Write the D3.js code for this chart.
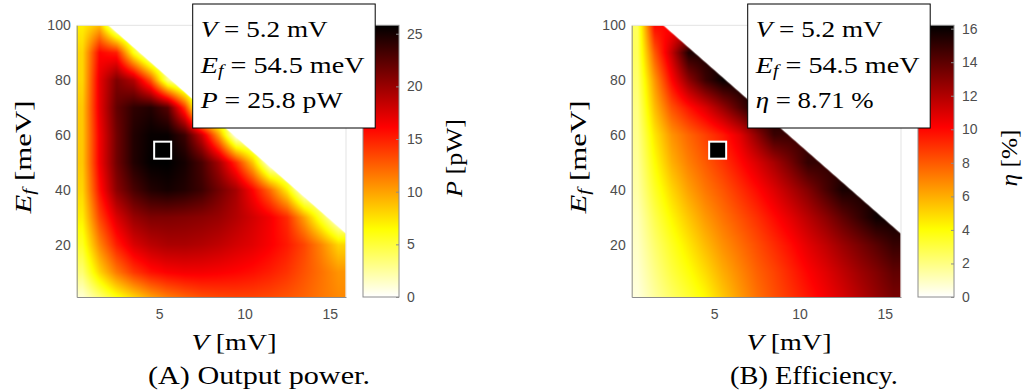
<!DOCTYPE html>
<html>
<head>
<meta charset="utf-8">
<script src="https://cdn.jsdelivr.net/npm/d3@7"></script>
<style>
  body { margin: 0; background: #fff; }
  svg { display: block; }
  text { white-space: pre; }
</style>
</head>
<body>
<script>
const _ = null; // outside the allowed (V, Ef) region

// grid: columns are V [mV], rows are Ef [meV]
const vGrid = [0.5, 1.5, 2.5, 3.5, 4.5, 5.5, 6.5, 7.5, 8.5, 9.5, 10.5, 11.5, 12.5, 13.5, 14.5, 15.5];
const efGrid = [100, 90, 80, 70, 60, 50, 40, 30, 20, 10, 0];

// output power P [pW]
const powerGrid = [
  [7, 9, _, _, _, _, _, _, _, _, _, _, _, _, _, _],
  [8, 16, 15, 6, _, _, _, _, _, _, _, _, _, _, _, _],
  [8, 17, 21, 19, 13, 3, _, _, _, _, _, _, _, _, _, _],
  [8.5, 17, 22, 24, 24.5, 22.5, 14, 1, _, _, _, _, _, _, _, _],
  [8.5, 16.5, 21.5, 24.5, 25.5, 25.5, 23.5, 18, 10, _, _, _, _, _, _, _],
  [8.5, 16.5, 21.5, 24.5, 25.7, 25.8, 25, 23, 19.5, 14.5, 8.5, _, _, _, _, _],
  [8, 15.5, 20.5, 23, 24.5, 25, 24.5, 23.5, 21.5, 19.5, 16, 12, 7, _, _, _],
  [7, 13.5, 17.5, 20, 21, 21, 20.8, 20.5, 20, 19, 17.8, 16.5, 14.5, 10, 5, _],
  [5.5, 11, 15, 17.5, 18.7, 19.3, 19.3, 19, 18.5, 17.8, 17.2, 16.3, 15.2, 13.5, 11, 8],
  [3.5, 8, 11.5, 14, 15.5, 16.2, 16.5, 16.5, 16.3, 16, 15.6, 15, 14.2, 13, 11.8, 10.5],
  [0.8, 3, 5.5, 7.5, 9.5, 11, 12, 12.8, 13.2, 13.4, 13.4, 13.2, 12.8, 12.3, 11.6, 11]
];

// efficiency eta [%]
const effGrid = [
  [2.6, 10, _, _, _, _, _, _, _, _, _, _, _, _, _, _],
  [2.6, 8, 11.5, 15.5, _, _, _, _, _, _, _, _, _, _, _, _],
  [2.3, 6.5, 10, 12.8, 14.8, 16, _, _, _, _, _, _, _, _, _, _],
  [2.0, 5.6, 8.2, 9.7, 11.0, 12.6, 14.3, 16, _, _, _, _, _, _, _, _],
  [1.8, 4.6, 6.6, 7.7, 8.6, 9.5, 10.8, 12.8, 14.8, _, _, _, _, _, _, _],
  [1.6, 4.0, 5.9, 7.1, 8.0, 8.9, 9.9, 11.0, 12.2, 13.5, 15.0, _, _, _, _, _],
  [1.4, 3.4, 5.0, 6.3, 7.3, 8.1, 9.0, 9.9, 10.9, 12.0, 13.1, 14.4, 15.6, _, _, _],
  [1.1, 2.8, 4.2, 5.4, 6.5, 7.4, 8.2, 9.0, 9.9, 10.8, 11.8, 12.8, 13.9, 14.9, 15.9, _],
  [0.9, 2.3, 3.5, 4.6, 5.7, 6.7, 7.5, 8.3, 9.1, 9.9, 10.8, 11.6, 12.5, 13.3, 14.1, 14.9],
  [0.7, 1.9, 3.0, 3.9, 4.9, 6.0, 6.9, 7.8, 8.5, 9.3, 10.1, 10.8, 11.6, 12.4, 13.1, 13.9],
  [0.5, 1.5, 2.4, 3.2, 4.1, 5.3, 6.4, 7.4, 8.2, 8.9, 9.6, 10.3, 11.0, 11.8, 12.6, 13.3]
];

// edge of the allowed region (straight line)
const edgeV = [2.0, 15.95];
const edgeEf = [100, 24];

const vDomain = [0.16, 15.95];
const efDomain = [1, 100];
const xTicks = [5, 10, 15];
const yTicks = [20, 40, 60, 80, 100];
const powerMax = 25.8;
const effMax = 16.2;
const powerTicks = [0, 5, 10, 15, 20, 25];
const effTicks = [0, 2, 4, 6, 8, 10, 12, 14, 16];

const markerV = 5.2;
const markerEf = 54.5;

const sans = "'Liberation Sans', Arial, Helvetica, sans-serif";
const serif = "'Liberation Serif', 'Times New Roman', serif";
const tickColor = "#4d4d4d";

const svg = d3.select("body").append("svg").attr("width", 1024).attr("height", 391);

// flipped MATLAB "hot": white -> yellow -> red -> black
const hot = max => d3.scaleLinear()
  .domain([0, 0.25, 0.625, 1].map(t => t * max))
  .range(["#ffffff", "#ffff00", "#ff0000", "#000000"])
  .clamp(true);

// latex-ish label: parts are [text, flags], "i" italic, "s" subscript.
// Stretched along its baseline to the measured width (the original font is wider).
function mathText(g, parts, o) {
  const size = o.size;
  const t = g.append("text").attr("font-family", serif).attr("font-size", size)
    .attr("fill", "#000").attr("text-anchor", o.anchor || "start");
  let shifted = false;
  parts.forEach(([s, f = ""]) => {
    const sp = t.append("tspan").text(s);
    if (f.includes("i")) sp.attr("font-style", "italic");
    if (f.includes("s")) { sp.attr("font-size", size * 0.7).attr("dy", size * 0.15); shifted = true; }
    else if (shifted) { sp.attr("dy", -size * 0.15); shifted = false; }
  });
  const len = t.node().getComputedTextLength();
  const sx = o.target ? o.target / len : 1;
  t.attr("transform", `translate(${o.x},${o.y})${o.rotate ? " rotate(-90)" : ""} scale(${sx},1)`);
  return t;
}

function drawPanel(p) {
  const dx = p.dx;
  const g = svg.append("g");
  const x = d3.scaleLinear().domain(vDomain).range([76.7 + dx, 346 + dx]);
  const y = d3.scaleLinear().domain(efDomain).range([297, 25.3]);
  const color = hot(p.max);

  // grid with the empty cells filled, for drawing only
  const grid = p.grid.map(row => {
    let last = 0;
    return row.map(v => {
      if (v == null) return p.fill === "zero" ? 0 : last;
      last = v;
      return v;
    });
  });

  // heat map image
  const [x0, x1] = x.range();
  const [y1, y0] = y.range();
  const w = Math.round(x1 - x0), h = Math.round(y1 - y0);
  const canvas = document.createElement("canvas");
  canvas.width = w; canvas.height = h;
  const ctx = canvas.getContext("2d");
  const img = ctx.createImageData(w, h);
  const col = d3.scaleLinear().domain(d3.extent(vGrid)).range([0, vGrid.length - 1]).clamp(true);
  const row = d3.scaleLinear().domain([efGrid[0], efGrid[efGrid.length - 1]]).range([0, efGrid.length - 1]).clamp(true);
  const edge = d3.scaleLinear().domain(edgeV).range(edgeEf);
  const k = Math.abs(y(0) - y(1));
  for (let j = 0; j < h; j++) {
    const ef = y.invert(y0 + j + 0.5);
    const r = row(ef), r0 = Math.floor(r), r1 = Math.min(r0 + 1, efGrid.length - 1), fr = r - r0;
    for (let i = 0; i < w; i++) {
      const v = x.invert(x0 + i + 0.5);
      const c = col(v), c0 = Math.floor(c), c1 = Math.min(c0 + 1, vGrid.length - 1), fc = c - c0;
      const top = grid[r0][c0] * (1 - fc) + grid[r0][c1] * fc;
      const bot = grid[r1][c0] * (1 - fc) + grid[r1][c1] * fc;
      const val = top * (1 - fr) + bot * fr;
      const a = Math.max(0, Math.min(1, (edge(v) - ef) * k * 0.75 + 0.5));
      const rgb = d3.rgb(color(val));
      const q = 4 * (j * w + i);
      img.data[q] = 255 + (rgb.r - 255) * a;
      img.data[q + 1] = 255 + (rgb.g - 255) * a;
      img.data[q + 2] = 255 + (rgb.b - 255) * a;
      img.data[q + 3] = 255;
    }
  }
  ctx.putImageData(img, 0, 0);
  g.append("image").attr("x", x0).attr("y", y0).attr("width", w).attr("height", h)
    .attr("href", canvas.toDataURL());

  // light top / right frame
  g.append("path")
    .attr("d", `M${x0},${y0}H${x1}V${y1}`)
    .attr("fill", "none").attr("stroke", "#e3e3e3").attr("stroke-width", 1);

  // axes
  const xAxis = g.append("g").attr("transform", `translate(0,${y1})`)
    .call(d3.axisBottom(x).tickValues(xTicks).tickSizeInner(0).tickSizeOuter(0).tickPadding(12));
  const yAxis = g.append("g").attr("transform", `translate(${x0},0)`)
    .call(d3.axisLeft(y).tickValues(yTicks).tickSizeInner(0).tickSizeOuter(0).tickPadding(6));
  [xAxis, yAxis].forEach(a => {
    a.select(".domain").attr("stroke", "#8c8c8c");
    a.selectAll("text").attr("font-family", sans).attr("font-size", 14).attr("fill", tickColor);
  });

  // marker
  g.append("rect")
    .attr("x", x(markerV) - 8.5).attr("y", y(markerEf) - 8.5)
    .attr("width", 17).attr("height", 17)
    .attr("fill", "#000").attr("stroke", "#fff").attr("stroke-width", 2);

  // colour bar
  const cy = d3.scaleLinear().domain([0, p.max]).range([297, 25.3]);
  const cx = 363 + dx, cw = 36;
  const gradId = "grad" + p.id;
  const grad = svg.append("defs").append("linearGradient").attr("id", gradId)
    .attr("x1", 0).attr("y1", 1).attr("x2", 0).attr("y2", 0);
  [0, 0.25, 0.625, 1].forEach(t => grad.append("stop").attr("offset", t).attr("stop-color", color(t * p.max)));
  g.append("rect").attr("x", cx).attr("y", cy(p.max)).attr("width", cw).attr("height", cy(0) - cy(p.max))
    .attr("fill", `url(#${gradId})`).attr("stroke", "#8c8c8c").attr("stroke-width", 1);
  const cAxis = g.append("g").attr("transform", `translate(${cx + cw},0)`)
    .call(d3.axisRight(cy).tickValues(p.ticks).tickSizeInner(-3).tickSizeOuter(0).tickPadding(8));
  cAxis.select(".domain").remove();
  cAxis.selectAll("line").attr("stroke", "#8c8c8c");
  cAxis.selectAll("text").attr("font-family", sans).attr("font-size", 14).attr("fill", tickColor);

  // axis titles
  mathText(g, [["V", "i"], [" [mV]"]], { size: 23, target: 85, x: 234 + dx, y: 350, anchor: "middle" });
  mathText(g, [["E", "i"], ["f", "is"], [" [meV]"]], { size: 23, target: 113, x: 31 + dx, y: 157, anchor: "middle", rotate: true });
  mathText(g, p.cbLabel, { size: 23, target: p.cbLabelWidth, x: 462 + dx, y: 158, anchor: "middle", rotate: true });

  // annotation box
  const bx = 192.7 + dx;
  g.append("rect").attr("x", bx).attr("y", 4).attr("width", 182.5).attr("height", 124)
    .attr("fill", "#fff").attr("stroke", "#000").attr("stroke-width", 1);
  p.lines.forEach((ln, i) => {
    mathText(g, ln.parts, { size: 23, target: ln.width, x: bx + 8, y: [37, 73, 108][i] });
  });

  // caption
  mathText(g, [[p.caption]], { size: 26, target: p.captionWidth, x: p.captionX, y: 384, anchor: "middle" });
}

drawPanel({
  id: "A", dx: 0, grid: powerGrid, max: powerMax, ticks: powerTicks, fill: "zero",
  cbLabel: [["P", "i"], [" [pW]"]], cbLabelWidth: 78,
  lines: [
    { parts: [["V", "i"], [" = 5.2 mV"]], width: 127 },
    { parts: [["E", "i"], ["f", "is"], [" = 54.5 meV"]], width: 164 },
    { parts: [["P", "i"], [" = 25.8 pW"]], width: 142 }
  ],
  caption: "(A) Output power.", captionX: 259, captionWidth: 222
});

drawPanel({
  id: "B", dx: 555, grid: effGrid, max: effMax, ticks: effTicks, fill: "last",
  cbLabel: [["η", "i"], [" [%]"]], cbLabelWidth: 57,
  lines: [
    { parts: [["V", "i"], [" = 5.2 mV"]], width: 127 },
    { parts: [["E", "i"], ["f", "is"], [" = 54.5 meV"]], width: 164 },
    { parts: [["η", "i"], [" = 8.71 %"]], width: 118 }
  ],
  caption: "(B) Efficiency.", captionX: 814, captionWidth: 168
});
</script>
</body>
</html>
